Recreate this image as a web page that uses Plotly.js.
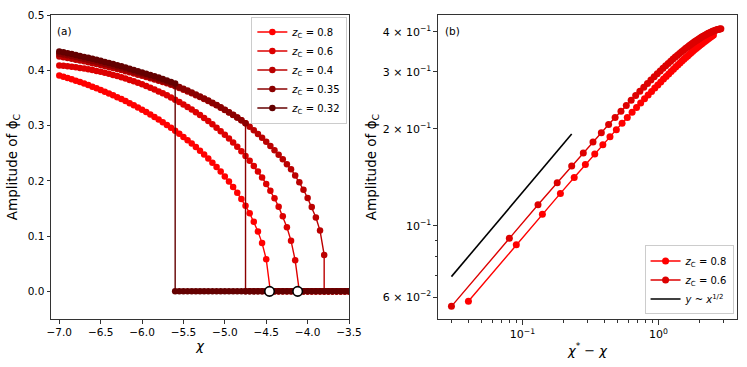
<!DOCTYPE html>
<html>
<head>
<meta charset="utf-8">
<script src="https://cdn.plot.ly/plotly-3.0.1.min.js"></script>
<style>
  html, body { margin: 0; padding: 0; background: #fff; }
  #chart { width: 747px; height: 367px; }
</style>
</head>
<body>
<div id="chart"></div>
<script>
// chi grid used by every series of panel (a)
const chi = [
  -7.00, -6.95, -6.90, -6.85, -6.80, -6.75, -6.70, -6.65, -6.60, -6.55,
  -6.50, -6.45, -6.40, -6.35, -6.30, -6.25, -6.20, -6.15, -6.10, -6.05,
  -6.00, -5.95, -5.90, -5.85, -5.80, -5.75, -5.70, -5.65, -5.60, -5.55,
  -5.50, -5.45, -5.40, -5.35, -5.30, -5.25, -5.20, -5.15, -5.10, -5.05,
  -5.00, -4.95, -4.90, -4.85, -4.80, -4.75, -4.70, -4.65, -4.60, -4.55,
  -4.50, -4.45, -4.40, -4.35, -4.30, -4.25, -4.20, -4.15, -4.10, -4.05,
  -4.00, -3.95, -3.90, -3.85, -3.80, -3.75, -3.70, -3.65, -3.60, -3.55,
  -3.50
];

// nonzero amplitude, starting at chi = -7.0
const amp08 = [
  0.3907, 0.3884, 0.3861, 0.3837, 0.3812, 0.3786, 0.3760, 0.3732, 0.3704, 0.3674,
  0.3644, 0.3613, 0.3581, 0.3548, 0.3514, 0.3479, 0.3442, 0.3405, 0.3366, 0.3327,
  0.3286, 0.3243, 0.3200, 0.3155, 0.3108, 0.3060, 0.3011, 0.2959, 0.2906, 0.2852,
  0.2795, 0.2736, 0.2675, 0.2611, 0.2545, 0.2476, 0.2404, 0.2329, 0.2250, 0.2167,
  0.2080, 0.1987, 0.1889, 0.1784, 0.1671, 0.1548, 0.1412, 0.1260, 0.1085, 0.0873,
  0.0583
];
const amp06 = [
  0.4087, 0.4080, 0.4072, 0.4063, 0.4054, 0.4043, 0.4031, 0.4018, 0.4004, 0.3988,
  0.3972, 0.3955, 0.3936, 0.3916, 0.3896, 0.3874, 0.3850, 0.3826, 0.3800, 0.3773,
  0.3745, 0.3715, 0.3684, 0.3652, 0.3618, 0.3583, 0.3546, 0.3507, 0.3467, 0.3426,
  0.3382, 0.3337, 0.3290, 0.3241, 0.3190, 0.3136, 0.3081, 0.3023, 0.2962, 0.2899,
  0.2833, 0.2764, 0.2691, 0.2615, 0.2535, 0.2451, 0.2362, 0.2267, 0.2167, 0.2060,
  0.1944, 0.1820, 0.1683, 0.1532, 0.1360, 0.1161, 0.0914, 0.0562
];
const amp04 = [
  0.4250, 0.4236, 0.4222, 0.4207, 0.4192, 0.4177, 0.4161, 0.4145, 0.4129, 0.4112,
  0.4095, 0.4077, 0.4059, 0.4041, 0.4022, 0.4003, 0.3983, 0.3963, 0.3942, 0.3921,
  0.3900, 0.3879, 0.3857, 0.3835, 0.3812, 0.3788, 0.3763, 0.3737, 0.3711, 0.3680,
  0.3649, 0.3617, 0.3584, 0.3550, 0.3515, 0.3479, 0.3442, 0.3404, 0.3365, 0.3324,
  0.3282, 0.3238, 0.3192, 0.3144, 0.3094, 0.3042, 0.2980, 0.2915, 0.2848, 0.2778,
  0.2706, 0.2631, 0.2553, 0.2472, 0.2388, 0.2301, 0.2210, 0.2095, 0.1972, 0.1838,
  0.1690, 0.1525, 0.1335, 0.1100, 0.0660
];
const amp035 = [
  0.4300, 0.4285, 0.4270, 0.4254, 0.4238, 0.4221, 0.4204, 0.4187, 0.4170, 0.4152,
  0.4134, 0.4115, 0.4096, 0.4077, 0.4056, 0.4036, 0.4015, 0.3994, 0.3972, 0.3950,
  0.3928, 0.3906, 0.3883, 0.3859, 0.3835, 0.3810, 0.3784, 0.3757, 0.3730, 0.3698,
  0.3666, 0.3633, 0.3598, 0.3563, 0.3527, 0.3490, 0.3452, 0.3413, 0.3373, 0.3331,
  0.3288, 0.3242, 0.3195, 0.3146, 0.3095, 0.3042
];
const amp032 = [
  0.4340, 0.4325, 0.4309, 0.4293, 0.4276, 0.4260, 0.4242, 0.4225, 0.4208, 0.4189,
  0.4171, 0.4151, 0.4132, 0.4112, 0.4092, 0.4072, 0.4050, 0.4029, 0.4006, 0.3984,
  0.3961, 0.3939, 0.3916, 0.3892, 0.3868, 0.3842, 0.3816, 0.3788, 0.3761
];

const zcLabels = ['0.8', '0.6', '0.4', '0.35', '0.32'];
const zcColors = ['#ff0000', '#dd0000', '#bb0000', '#8b0000', '#640000'];
const zeroFrom = [-4.45, -4.10, -3.80, -4.75, -5.60];   // where the amplitude is 0
const chiStar = [-4.46, -4.12];                         // critical points of zc = 0.8, 0.6

// reference slope line on panel (b)
const sqrtX = [0.03, 0.23];
const sqrtY = [0.0695, 0.1925];

const amps = [amp08, amp06, amp04, amp035, amp032];
const traces = [];

// Panel (a)
amps.forEach(function(amp, k) {
  const zeros = chi.filter(function(c) { return c >= zeroFrom[k] - 1e-9; });
  traces.push({
    x: chi.slice(0, amp.length).concat(zeros),
    y: amp.concat(zeros.map(function() { return 0; })),
    type: 'scatter',
    mode: 'lines+markers',
    line: { color: zcColors[k], width: 1.4 },
    marker: { color: zcColors[k], size: 6.5 },
    name: '<i>z</i><sub>C</sub> = ' + zcLabels[k],
    xaxis: 'x', yaxis: 'y',
    legend: 'legend'
  });
});

// open circles at the continuous transitions
traces.push({
  x: chiStar,
  y: chiStar.map(function() { return 0; }),
  type: 'scatter',
  mode: 'markers',
  marker: { color: '#ffffff', size: 9.5, line: { color: '#000000', width: 1.6 } },
  showlegend: false,
  xaxis: 'x', yaxis: 'y'
});

// Panel (b): same data against chi* - chi
[amp08, amp06].forEach(function(amp, k) {
  traces.push({
    x: amp.map(function(v, i) { return chiStar[k] - chi[i]; }),
    y: amp,
    type: 'scatter',
    mode: 'lines+markers',
    line: { color: zcColors[k], width: 1.4 },
    marker: { color: zcColors[k], size: 7 },
    name: '<i>z</i><sub>C</sub> = ' + zcLabels[k],
    xaxis: 'x2', yaxis: 'y2',
    legend: 'legend2'
  });
});

traces.push({
  x: sqrtX,
  y: sqrtY,
  type: 'scatter',
  mode: 'lines',
  line: { color: '#000000', width: 1.6 },
  name: '<i>y</i> ~ <i>x</i><sup>1/2</sup>',
  xaxis: 'x2', yaxis: 'y2',
  legend: 'legend2'
});

const axisBase = {
  showline: true,
  mirror: true,
  linecolor: '#333',
  linewidth: 1,
  ticks: 'outside',
  ticklen: 3.5,
  tickwidth: 1,
  tickcolor: '#333',
  showgrid: false,
  zeroline: false,
  tickfont: { family: 'DejaVu Sans', size: 10.5, color: '#000' }
};

const layout = {
  width: 747,
  height: 367,
  margin: { l: 51, r: 10, t: 15, b: 48 },
  paper_bgcolor: '#fff',
  plot_bgcolor: '#fff',
  font: { family: 'DejaVu Sans', size: 10, color: '#000' },
  xaxis: Object.assign({}, axisBase, {
    domain: [0, 0.4344],
    anchor: 'y',
    range: [-7.1, -3.5],
    tickvals: [-7, -6.5, -6, -5.5, -5, -4.5, -4, -3.5],
    tickformat: '.1f',
    title: { text: '<i>χ</i>', font: { size: 13 }, standoff: 3 }
  }),
  yaxis: Object.assign({}, axisBase, {
    domain: [0, 1],
    anchor: 'x',
    range: [-0.05, 0.5],
    tickvals: [0, 0.1, 0.2, 0.3, 0.4, 0.5],
    tickformat: '.1f',
    title: { text: 'Amplitude of ϕ<sub>C</sub>', font: { size: 13.5 }, standoff: 6 }
  }),
  xaxis2: Object.assign({}, axisBase, {
    type: 'log',
    domain: [0.5641, 1],
    anchor: 'y2',
    range: [-1.622, 0.578],
    tickvals: [0.1, 1],
    ticktext: ['10<sup>−1</sup>', '10<sup>0</sup>'],
    ticklen: 5,
    tickfont: { family: 'DejaVu Sans', size: 11, color: '#000' },
    minor: {
      tickvals: [0.03, 0.04, 0.05, 0.06, 0.07, 0.08, 0.09, 0.2, 0.3, 0.4, 0.5, 0.6, 0.7, 0.8, 0.9, 2, 3],
      ticklen: 2.5,
      tickcolor: '#333',
      ticks: 'outside'
    },
    title: { text: '<i>χ</i><sup>*</sup> − <i>χ</i>', font: { size: 13 }, standoff: 5 }
  }),
  yaxis2: Object.assign({}, axisBase, {
    type: 'log',
    domain: [0, 1],
    anchor: 'x2',
    range: [-1.2895, -0.346],
    tickvals: [0.06, 0.1, 0.2, 0.3, 0.4],
    ticktext: ['6 × 10<sup>−2</sup>', '10<sup>−1</sup>', '2 × 10<sup>−1</sup>', '3 × 10<sup>−1</sup>', '4 × 10<sup>−1</sup>'],
    tickfont: { family: 'DejaVu Sans', size: 11, color: '#000' },
    minor: {
      tickvals: [0.07, 0.08, 0.09],
      ticklen: 2,
      tickcolor: '#333',
      ticks: 'outside'
    },
    title: { text: 'Amplitude of ϕ<sub>C</sub>', font: { size: 13.5 }, standoff: 2 }
  }),
  legend: {
    x: 0.432, y: 0.995,
    xanchor: 'right', yanchor: 'top',
    bgcolor: 'rgba(255,255,255,0.85)',
    bordercolor: '#cccccc',
    borderwidth: 1,
    font: { family: 'DejaVu Sans', size: 10 },
    tracegroupgap: 0,
    itemwidth: 30
  },
  legend2: {
    x: 0.995, y: 0.015,
    xanchor: 'right', yanchor: 'bottom',
    bgcolor: 'rgba(255,255,255,0.85)',
    bordercolor: '#cccccc',
    borderwidth: 1,
    font: { family: 'DejaVu Sans', size: 10 },
    tracegroupgap: 0,
    itemwidth: 30
  },
  annotations: [
    { text: '(a)', xref: 'paper', yref: 'paper', x: 0.006, y: 0.975, xanchor: 'left', yanchor: 'top', showarrow: false, font: { size: 10.5 } },
    { text: '(b)', xref: 'paper', yref: 'paper', x: 0.571, y: 0.975, xanchor: 'left', yanchor: 'top', showarrow: false, font: { size: 10.5 } }
  ]
};

Plotly.newPlot('chart', traces, layout, { displayModeBar: false, staticPlot: true });
</script>
</body>
</html>
